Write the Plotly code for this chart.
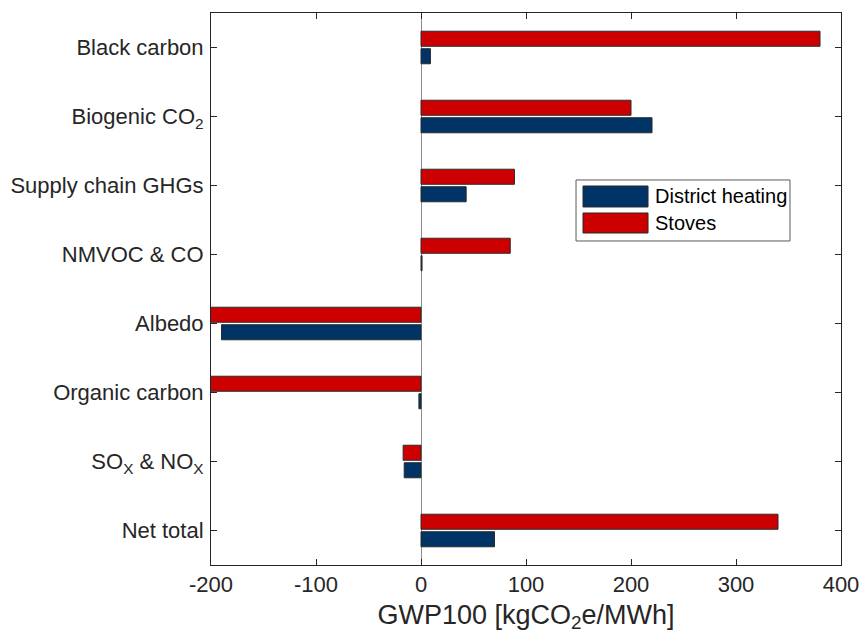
import plotly.graph_objects as go

categories = ["Black carbon", "Biogenic CO<sub>2</sub>", "Supply chain GHGs", "NMVOC & CO",
              "Albedo", "Organic carbon", "SO<sub>X</sub> & NO<sub>X</sub>", "Net total"]
stoves = [380, 200, 89, 85, -250, -230, -17, 340]
district_heating = [9, 220, 43, 1, -190, -2, -16, 70]
series_names = ["District heating", "Stoves"]
x_ticks = [-200, -100, 0, 100, 200, 300, 400]
x_ticktext = ["-200", "-100", "0", "100", "200", "300", "400"]

RED = "#CC0000"
BLUE = "#003366"
EDGE = "#2b2b2b"
FONT = "Liberation Sans, Arial, sans-serif"
TXT = "#262626"

fig = go.Figure()
fig.add_trace(go.Bar(y=categories, x=stoves, orientation="h", name=series_names[1],
                     marker=dict(color=RED, line=dict(color=EDGE, width=1)), showlegend=False))
fig.add_trace(go.Bar(y=categories, x=district_heating, orientation="h", name=series_names[0],
                     marker=dict(color=BLUE, line=dict(color=EDGE, width=1)), showlegend=False))

# manual legend (wide swatches like the original)
lx0, lx1 = 0.5794, 0.919
ly0, ly1 = 0.587, 0.6975
fig.add_shape(type="rect", xref="paper", yref="paper", x0=lx0, x1=lx1, y0=ly0, y1=ly1,
              line=dict(color="#5a5a5a", width=1), fillcolor="white", layer="above")
fig.add_shape(type="rect", xref="paper", yref="paper", x0=0.5905, x1=0.6937, y0=0.6486, y1=0.6866,
              line=dict(color=EDGE, width=1), fillcolor=BLUE, layer="above")
fig.add_shape(type="rect", xref="paper", yref="paper", x0=0.5905, x1=0.6937, y0=0.6014, y1=0.6377,
              line=dict(color=EDGE, width=1), fillcolor=RED, layer="above")
fig.add_annotation(xref="paper", yref="paper", x=0.7016, y=0.6676, text=series_names[0],
                   showarrow=False, xanchor="left", yanchor="middle",
                   font=dict(family=FONT, size=20, color="black"))
fig.add_annotation(xref="paper", yref="paper", x=0.7016, y=0.6196, text=series_names[1],
                   showarrow=False, xanchor="left", yanchor="middle",
                   font=dict(family=FONT, size=20, color="black"))

fig.update_layout(
    width=860, height=640, autosize=False,
    margin=dict(l=211, r=19, t=13, b=75),
    paper_bgcolor="white", plot_bgcolor="white",
    barmode="group", bargap=0.493, bargroupgap=0.14,
    font=dict(family=FONT, size=22, color=TXT),
    showlegend=False,
)
fig.update_xaxes(
    range=[-200, 400], tickvals=x_ticks, ticktext=x_ticktext,
    automargin=False, ticklabeloverflow="allow",
    showgrid=False, zeroline=True, zerolinecolor="#8c8c8c", zerolinewidth=1,
    showline=True, mirror="ticks", linecolor=TXT, linewidth=1,
    ticks="inside", ticklen=6, tickcolor=TXT,
    tickfont=dict(size=22, color=TXT),
    title=dict(text="GWP100 [kgCO<sub>2</sub>e/MWh]", font=dict(size=27, color=TXT), standoff=8),
)
fig.update_yaxes(
    type="category", categoryorder="array", categoryarray=categories, autorange="reversed",
    automargin=False,
    showgrid=False, showline=True, mirror="ticks", linecolor=TXT, linewidth=1,
    ticks="inside", ticklen=6, tickcolor=TXT, ticklabelstandoff=2,
    tickfont=dict(size=22, color=TXT),
)

fig.write_html("out.html",
               config={"displayModeBar": False, "responsive": False},
               post_script="document.body.style.margin='0';document.body.style.overflow='hidden';")
